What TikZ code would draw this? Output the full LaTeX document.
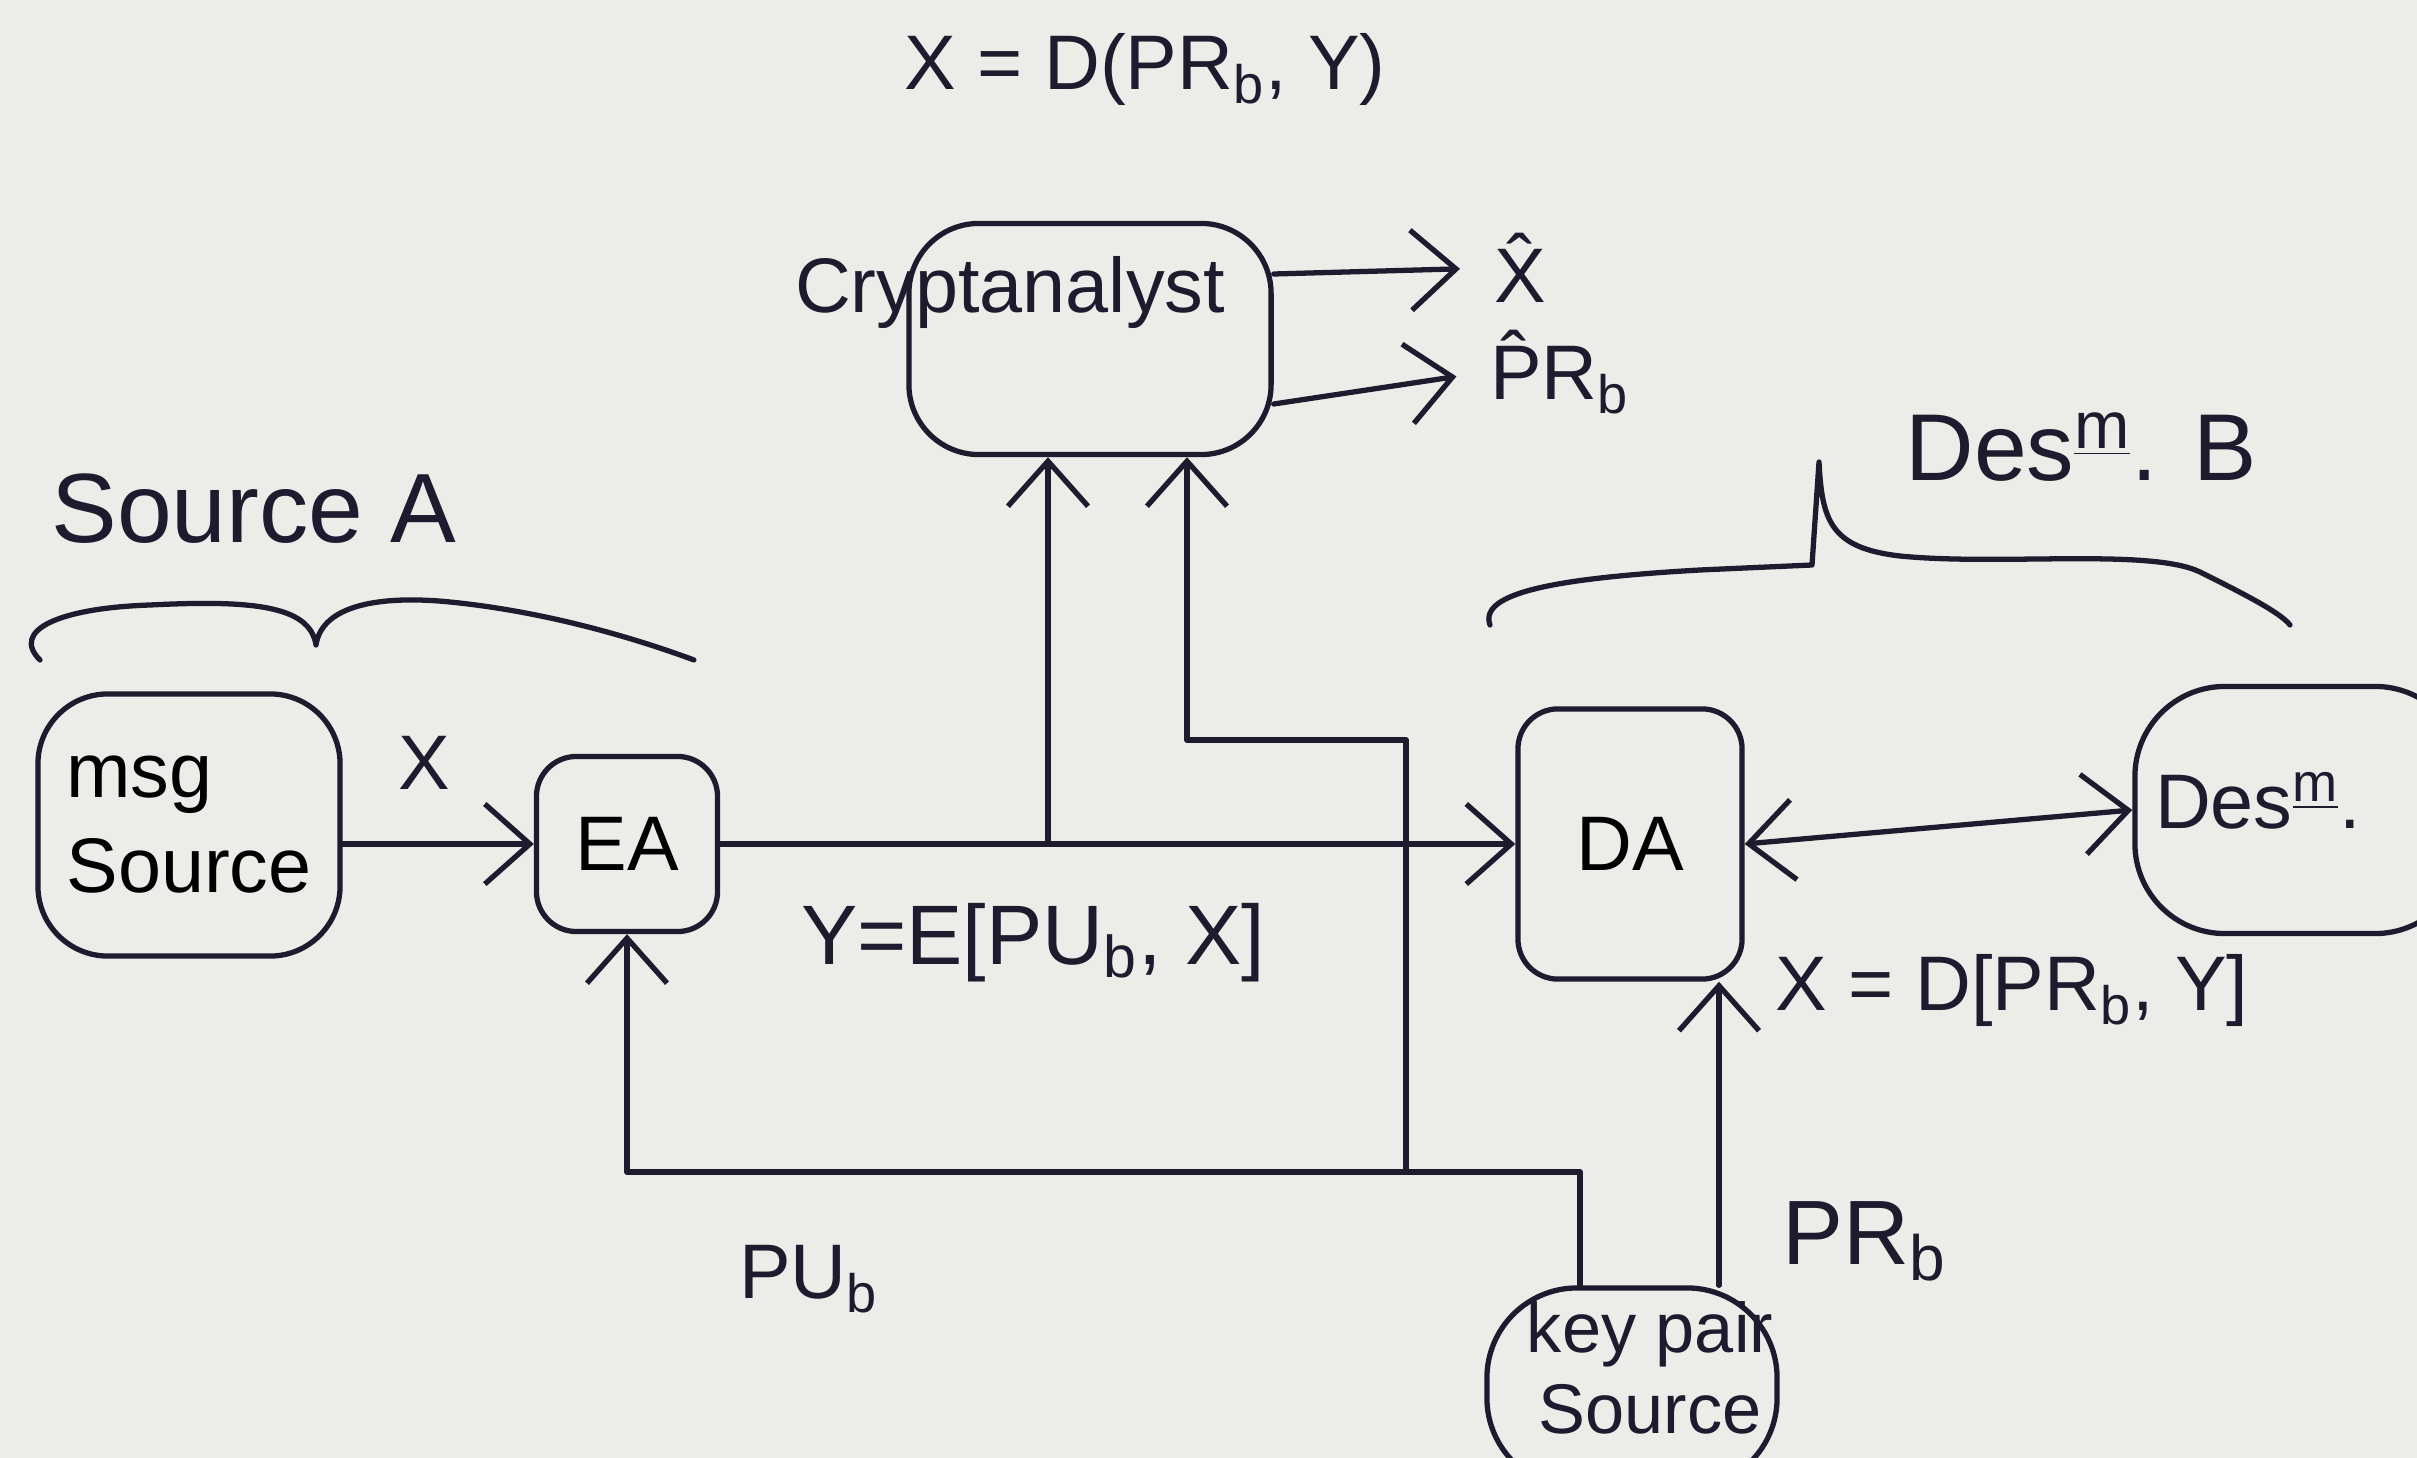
\documentclass[tikz,border=0pt]{standalone}
\usepackage{fontspec}
\setmainfont{Liberation Sans}
\usetikzlibrary{arrows.meta,calc}
\definecolor{ink}{RGB}{28,28,46}
\definecolor{paper}{RGB}{236,236,233}
\tikzset{
  blk/.style={draw=ink, line width=1.5pt, inner sep=0pt, font=\fontsize{22}{27}\selectfont},
  lbl/.style={text=ink, inner sep=1pt, font=\fontsize{22}{27}\selectfont},
  wire/.style={draw=ink, line width=1.5pt, line join=round, line cap=round},
  arr/.style={wire, -{Straight Barb[length=4.5mm,width=8mm,line width=1.5pt]}},
  dblarr/.style={wire, {Straight Barb[length=4.5mm,width=8mm,line width=1.5pt]}-{Straight Barb[length=4.5mm,width=8mm,line width=1.5pt]}}
}
\begin{document}
\begin{tikzpicture}[x=0.01cm, y=-0.01cm]
\fill[paper] (0,0) rectangle (2417,1458);
\useasboundingbox (0,0) rectangle (2417,1458);

% boxes
\node[blk, rounded corners=7mm, minimum width=3.02cm, minimum height=2.62cm, align=left] (msg) at (189,825) {msg\\Source};
\node[blk, rounded corners=4mm, minimum width=1.81cm, minimum height=1.75cm] (ea) at (627,844) {EA};
\node[blk, rounded corners=7mm, minimum width=3.62cm, minimum height=2.31cm] (crypt) at (1090,339) {};
\node[lbl] (cryptt) at (1010,293) {Cryptanalyst};
\node[blk, rounded corners=4mm, minimum width=2.24cm, minimum height=2.7cm] (da) at (1630,844) {DA};
\node[blk, rounded corners=9mm, minimum width=3.3cm, minimum height=2.47cm] (dest) at (2300,810) {};
\node[lbl] (destt) at (2258,801) {Des\textsuperscript{\underline{m}}.};
\node[blk, rounded corners=9mm, minimum width=2.9cm, minimum height=2.0cm] (key) at (1632,1388) {};
\node[lbl, align=center, font=\fontsize{20}{23}\selectfont] (keyt) at (1650,1368) {key pair\\Source};

% labels
\node[lbl] (f1) at (1145,69) {X = D(PR\textsubscript{b}, Y)};
\node[lbl] (xhat) at (1520,268) {\^{X}};
\node[lbl] (prhat) at (1560,372) {\^{P}R\textsubscript{b}};
\node[lbl, font=\fontsize{27}{32}\selectfont] (destb) at (2081,447) {Des\textsuperscript{\underline{m}}. B};
\node[lbl, font=\fontsize{28}{33}\selectfont] (srcA) at (254,509) {Source A};
\node[lbl] (xlab) at (424,763) {X};
\node[lbl, font=\fontsize{24}{29}\selectfont] (ylab) at (1033,943) {Y=E[PU\textsubscript{b}, X]};
\node[lbl] (dlab) at (2012,990) {X = D[PR\textsubscript{b}, Y]};
\node[lbl, font=\fontsize{26}{31}\selectfont] (prb) at (1865,1241) {PR\textsubscript{b}};
\node[lbl] (pub) at (809,1279) {PU\textsubscript{b}};

% braces
\draw[wire] (40,660) .. controls (10,630) and (60,608) .. (150,605)
  .. controls (250,600) and (310,605) .. (316,645)
  .. controls (322,605) and (380,595) .. (450,602)
  .. controls (550,612) and (640,640) .. (694,660);
\draw[wire] (1490,625) .. controls (1478,592) and (1560,578) .. (1700,570)
  -- (1812,565) -- (1819,462)
  .. controls (1822,520) and (1830,548) .. (1900,556)
  .. controls (2000,566) and (2150,548) .. (2200,572)
  .. controls (2240,592) and (2280,612) .. (2290,625);

% connectors
\draw[arr] (msg.east |- ea.west) -- (ea.west);
\draw[arr] (ea.east) -- (da.west);
\coordinate (j1) at (1048,844);
\draw[arr] (j1) -- (j1 |- crypt.south);
\coordinate (j2) at (1406,1172);
\coordinate (j3) at (1406,740);
\coordinate (j4) at (1187,740);
\draw[arr] (j2) -- (j3) -- (j4) -- (j4 |- crypt.south);
\coordinate (kl) at ($(key.north)+(-52,0)$);
\coordinate (kr) at ($(key.north)+(87,0)$);
\draw[arr] (kl) -- (kl |- j2) -- (ea.south |- j2) -- (ea.south);
\draw[arr] (kr) -- (kr |- da.south);
\draw[dblarr] (da.east) -- (dest.west);
\coordinate (c1) at ($(crypt.east)+(0,-65)$);
\coordinate (c2) at ($(crypt.east)+(0,65)$);
\draw[arr, shorten >=3mm] (c1) -- (xhat.west);
\draw[arr, shorten >=3mm] (c2) -- (prhat.west);
\end{tikzpicture}
\end{document}
